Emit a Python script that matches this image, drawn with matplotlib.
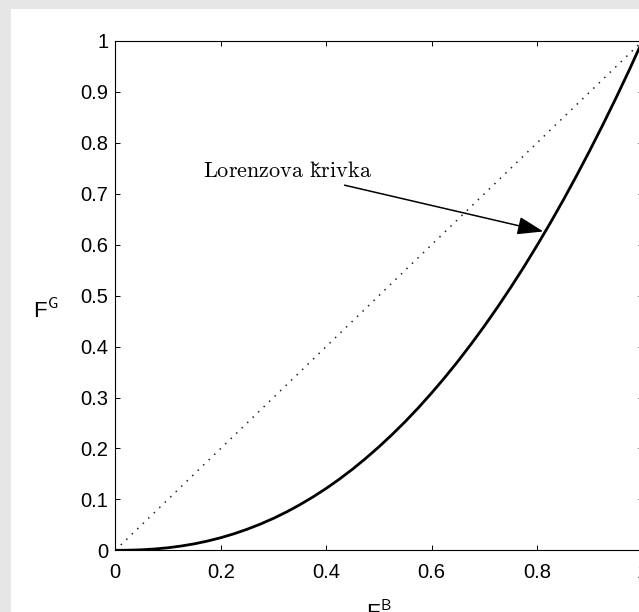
import matplotlib
matplotlib.use("Agg")
import matplotlib.pyplot as plt
from matplotlib.patches import Rectangle

plt.rcParams['font.family'] = ['Liberation Sans', 'DejaVu Sans']
plt.rcParams['mathtext.fontset'] = 'cm'

# Data
share_b = [0.000, 0.025, 0.050, 0.075, 0.100, 0.125, 0.150, 0.175, 0.200, 0.225,
           0.250, 0.275, 0.300, 0.325, 0.350, 0.375, 0.400, 0.425, 0.450, 0.475,
           0.500, 0.525, 0.550, 0.575, 0.600, 0.625, 0.650, 0.675, 0.700, 0.725,
           0.750, 0.775, 0.800, 0.825, 0.850, 0.875, 0.900, 0.925, 0.950, 0.975, 1.000]
share_g = [0.0000, 0.0002, 0.0010, 0.0026, 0.0050, 0.0084, 0.0127, 0.0182, 0.0247, 0.0324,
           0.0413, 0.0514, 0.0627, 0.0754, 0.0894, 0.1048, 0.1215, 0.1397, 0.1593, 0.1805,
           0.2031, 0.2272, 0.2528, 0.2800, 0.3089, 0.3393, 0.3713, 0.4050, 0.4403, 0.4773,
           0.5160, 0.5564, 0.5986, 0.6425, 0.6882, 0.7357, 0.7850, 0.8360, 0.8887, 0.9434, 1.0000]
equality_x = [0.0, 1.0]
equality_y = [0.0, 1.0]
x_ticks = [0, 0.2, 0.4, 0.6, 0.8, 1]
x_tick_labels = ['0', '0.2', '0.4', '0.6', '0.8', '1']
y_ticks = [0, 0.1, 0.2, 0.3, 0.4, 0.5, 0.6, 0.7, 0.8, 0.9, 1]
y_tick_labels = ['0', '0.1', '0.2', '0.3', '0.4', '0.5', '0.6', '0.7', '0.8', '0.9', '1']
annot_text = r'$\mathrm{Lorenzova\ k\check{r}ivka}$'
annot_point = (0.812, 0.626)
annot_text_pos = (0.487, 0.743)

W, H = 639, 612
fig = plt.figure(figsize=(W / 100, H / 100), dpi=100)
fig.patch.set_facecolor('#e6e6e6')
fig.patches.append(Rectangle((11 / W, 0), 1, 1 - 9 / H, transform=fig.transFigure,
                             facecolor='white', edgecolor='none', zorder=-5))

ax = fig.add_axes([115.3 / W, (H - 550.3) / H, 527.2 / W, 509.3 / H])
ax.set_facecolor('white')
ax.set_zorder(2)

ax.plot(equality_x, equality_y, color='#222222', lw=1.1, linestyle=(0, (1, 4.0)))
ax.plot(share_b, share_g, color='black', lw=2.0, solid_capstyle='round',
        solid_joinstyle='round')

ax.set_xlim(0, 1)
ax.set_ylim(0, 1)
ax.set_xticks(x_ticks)
ax.set_xticklabels(x_tick_labels)
ax.set_yticks(y_ticks)
ax.set_yticklabels(y_tick_labels)

ax.tick_params(direction='in', length=3.6, width=0.7, top=True, right=True,
               labelsize=14.5, colors='black')
ax.tick_params(axis='x', pad=9)
ax.tick_params(axis='y', pad=5)
for s in ax.spines.values():
    s.set_linewidth(0.8)
    s.set_color('black')

ax.set_xlabel(r'F$^{\mathsf{B}}$', fontsize=16)
ax.set_ylabel(r'F$^{\mathsf{G}}$', fontsize=16, rotation=0)
ax.xaxis.set_label_coords(0.5, -0.1)
ax.yaxis.set_label_coords(-0.132, 0.446)

ax.annotate(annot_text, xy=annot_point, xytext=annot_text_pos,
            ha='right', va='center', fontsize=16,
            arrowprops=dict(arrowstyle='-|>,head_length=1.6,head_width=0.55',
                            mutation_scale=10, color='black', lw=1.1,
                            shrinkA=0, shrinkB=0))

fig.savefig('out.png', dpi=100)
